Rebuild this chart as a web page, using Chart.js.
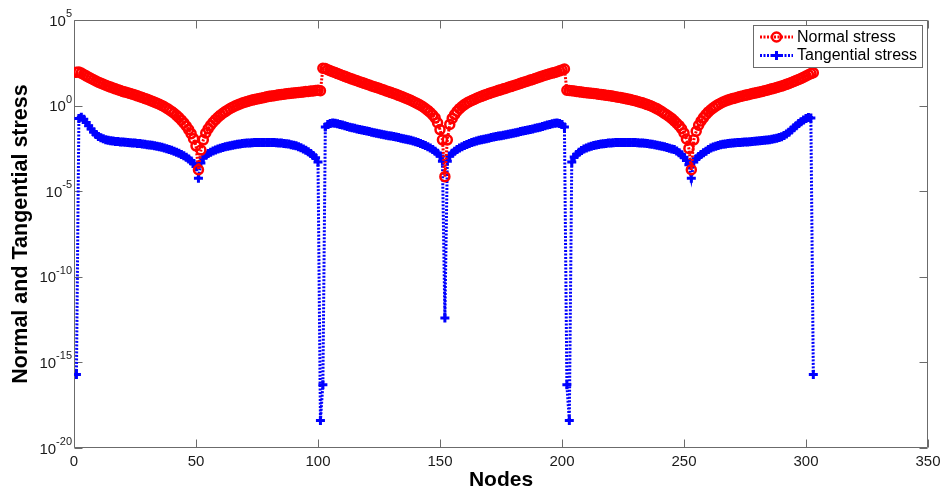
<!DOCTYPE html>
<html>
<head>
<meta charset="utf-8">
<script src="https://cdn.jsdelivr.net/npm/chart.js@4/dist/chart.umd.min.js"></script>
<style>
  html, body { margin: 0; padding: 0; background: #fff; }
  #wrap { width: 947px; height: 496px; position: relative; }
</style>
</head>
<body>
<div id="wrap"><canvas id="c"></canvas></div>
<script>
// Values, as powers of ten (log10 of stress), node 1..303
const normalStressExp = [
  1.95, 1.96, 1.90, 1.82, 1.74, 1.66, 1.58, 1.51, 1.44, 1.37,
  1.31, 1.25, 1.19, 1.13, 1.08, 1.03, 0.98, 0.93, 0.88, 0.83,
  0.79, 0.75, 0.71, 0.67, 0.62, 0.57, 0.52, 0.47, 0.42, 0.37,
  0.31, 0.26, 0.20, 0.14, 0.08, 0.01, -0.07, -0.15, -0.24, -0.34,
  -0.45, -0.57, -0.70, -0.85, -1.01, -1.19, -1.40, -1.64, -1.93, -2.35,
  -3.75,
  -2.6, -2.0, -1.6, -1.35, -1.15, -0.97, -0.82, -0.68, -0.56, -0.45,
  -0.35, -0.26, -0.17, -0.09, -0.02, 0.04, 0.10, 0.15, 0.20, 0.24,
  0.28, 0.32, 0.36, 0.39, 0.42, 0.45, 0.48, 0.51, 0.54, 0.56,
  0.58, 0.61, 0.63, 0.65, 0.67, 0.69, 0.70, 0.72, 0.74, 0.75,
  0.77, 0.78, 0.80, 0.82, 0.83, 0.85, 0.86, 0.88, 0.89, 0.87,
  2.18, 2.16, 2.10, 2.04, 1.98, 1.93, 1.87, 1.82, 1.76, 1.71,
  1.65, 1.60, 1.55, 1.50, 1.45, 1.40, 1.35, 1.30, 1.25, 1.20,
  1.15, 1.10, 1.06, 1.01, 0.96, 0.91, 0.86, 0.81, 0.76, 0.71,
  0.66, 0.60, 0.55, 0.49, 0.43, 0.37, 0.31, 0.24, 0.17, 0.10,
  0.02, -0.07, -0.17, -0.28, -0.40, -0.55, -0.72, -1.0, -1.4, -2.0,
  -4.15,
  -2.0, -1.1, -0.75, -0.52, -0.33, -0.18, -0.05, 0.06, 0.15, 0.23,
  0.30, 0.36, 0.43, 0.49, 0.54, 0.60, 0.65, 0.70, 0.75, 0.80,
  0.84, 0.89, 0.93, 0.98, 1.02, 1.07, 1.11, 1.16, 1.20, 1.25,
  1.30, 1.35, 1.39, 1.44, 1.49, 1.53, 1.58, 1.63, 1.68, 1.73,
  1.77, 1.82, 1.86, 1.90, 1.94, 1.98, 2.03, 2.08, 2.14,
  0.90, 0.88, 0.87, 0.85, 0.83, 0.81, 0.79, 0.77, 0.75, 0.74,
  0.72, 0.71, 0.69, 0.67, 0.65, 0.63, 0.61, 0.59, 0.57, 0.54,
  0.52, 0.49, 0.47, 0.44, 0.41, 0.38, 0.35, 0.31, 0.28, 0.24,
  0.20, 0.16, 0.11, 0.06, 0.01, -0.05, -0.12, -0.19, -0.27, -0.36,
  -0.46, -0.55, -0.65, -0.76, -0.89, -1.03, -1.17, -1.35, -1.6, -1.95,
  -2.5, -3.75,
  -2.0, -1.5, -1.15, -0.90, -0.70, -0.52, -0.37, -0.24, -0.13, -0.03,
  0.06, 0.14, 0.21, 0.27, 0.32, 0.37, 0.41, 0.45, 0.49, 0.53,
  0.56, 0.60, 0.63, 0.67, 0.70, 0.73, 0.76, 0.80, 0.83, 0.87,
  0.90, 0.94, 0.98, 1.02, 1.06, 1.10, 1.14, 1.19, 1.24, 1.29,
  1.35, 1.41, 1.47, 1.53, 1.59, 1.66, 1.73, 1.80, 1.87, 1.92
];

const tangentialStressExp = [
  -15.7, -0.75, -0.68, -0.80, -0.98, -1.17, -1.36, -1.54, -1.69, -1.80,
  -1.88, -1.94, -1.99, -2.02, -2.05, -2.07, -2.09, -2.10, -2.12, -2.13,
  -2.14, -2.16, -2.17, -2.18, -2.19, -2.21, -2.22, -2.24, -2.26, -2.28,
  -2.30, -2.32, -2.35, -2.38, -2.41, -2.44, -2.48, -2.52, -2.56, -2.61,
  -2.66, -2.72, -2.78, -2.85, -2.93, -3.02, -3.12, -3.24, -3.38, -3.56,
  -4.25,
  -3.35, -3.05, -2.90, -2.80, -2.72, -2.65, -2.59, -2.54, -2.49, -2.45,
  -2.41, -2.37, -2.34, -2.31, -2.28, -2.26, -2.24, -2.22, -2.20, -2.19,
  -2.18, -2.17, -2.16, -2.16, -2.15, -2.15, -2.15, -2.15, -2.15, -2.16,
  -2.16, -2.17, -2.18, -2.19, -2.21, -2.23, -2.25, -2.28, -2.31, -2.35,
  -2.40, -2.46, -2.53, -2.61, -2.70, -2.80, -2.92, -3.05, -3.30, -18.4,
  -16.3, -1.25,
  -1.10, -1.04, -1.02, -1.03, -1.06, -1.10, -1.14, -1.18, -1.22, -1.26,
  -1.30, -1.33, -1.36, -1.40, -1.43, -1.46, -1.49, -1.52, -1.55, -1.58,
  -1.61, -1.64, -1.67, -1.70, -1.73, -1.76, -1.78, -1.81, -1.84, -1.87,
  -1.90, -1.93, -1.96, -1.99, -2.03, -2.07, -2.11, -2.16, -2.21, -2.27,
  -2.33, -2.40, -2.48, -2.57, -2.67, -2.79, -2.94, -3.25, -12.4,
  -3.25, -2.94, -2.79, -2.67, -2.57, -2.48, -2.40, -2.33, -2.27, -2.21,
  -2.16, -2.11, -2.07, -2.03, -1.99, -1.96, -1.93, -1.90, -1.87, -1.84,
  -1.81, -1.78, -1.76, -1.73, -1.70, -1.67, -1.64, -1.61, -1.58, -1.55,
  -1.52, -1.49, -1.46, -1.43, -1.40, -1.36, -1.33, -1.30, -1.26, -1.22,
  -1.18, -1.14, -1.10, -1.06, -1.03, -1.02, -1.04, -1.10, -1.25, -16.3,
  -18.4,
  -3.30, -3.00, -2.85, -2.72, -2.62, -2.54, -2.47, -2.42, -2.37, -2.33,
  -2.30, -2.27, -2.25, -2.23, -2.21, -2.19, -2.18, -2.17, -2.16, -2.16,
  -2.15, -2.15, -2.15, -2.15, -2.15, -2.16, -2.16, -2.17, -2.18, -2.19,
  -2.20, -2.22, -2.24, -2.26, -2.28, -2.31, -2.34, -2.37, -2.41, -2.45,
  -2.49, -2.53, -2.57, -2.65, -2.75, -2.87, -3.02, -3.20, -3.45, -4.25,
  -3.30, -3.10, -2.97, -2.86, -2.76, -2.66, -2.56, -2.48, -2.42, -2.37,
  -2.33, -2.29, -2.26, -2.24, -2.22, -2.20, -2.19, -2.17, -2.16, -2.15,
  -2.14, -2.13, -2.12, -2.11, -2.10, -2.08, -2.07, -2.06, -2.04, -2.03,
  -2.01, -1.99, -1.97, -1.94, -1.91, -1.87, -1.82, -1.75, -1.66, -1.55,
  -1.43, -1.30, -1.17, -1.05, -0.94, -0.84, -0.76, -0.70, -0.72, -15.7
];

const seriesLabels = ['Normal stress', 'Tangential stress'];
const xTickValues = [0, 50, 100, 150, 200, 250, 300, 350];
const yTickValues = [1e-20, 1e-15, 1e-10, 1e-5, 1e0, 1e5];
const xTitle = 'Nodes';
const yTitle = 'Normal and Tangential stress';

function toPoints(exps) {
  return exps.map((e, i) => ({ x: i + 1, y: Math.pow(10, e) }));
}

const AXIS_COLOR = '#6b6b6b';
const FONT = '"Liberation Sans", Arial, Helvetica, sans-serif';

const matlabAxes = {
  id: 'matlabAxes',
  beforeDatasetsDraw(chart) {
    const { ctx, chartArea: a, scales } = chart;
    const L = Math.round(a.left) + 0.5, R = Math.round(a.right) - 0.5;
    const T = Math.round(a.top) + 0.5, B = Math.round(a.bottom) - 0.5;
    ctx.save();
    ctx.strokeStyle = AXIS_COLOR;
    ctx.lineWidth = 1;
    ctx.beginPath();
    ctx.rect(L, T, R - L, B - T);
    const tl = 8;
    xTickValues.forEach(v => {
      const px = Math.round(scales.x.getPixelForValue(v)) + 0.5;
      ctx.moveTo(px, B); ctx.lineTo(px, B - tl);
      ctx.moveTo(px, T); ctx.lineTo(px, T + tl);
    });
    yTickValues.forEach(v => {
      const py = Math.round(scales.y.getPixelForValue(v)) + 0.5;
      ctx.moveTo(L, py); ctx.lineTo(L + tl, py);
      ctx.moveTo(R, py); ctx.lineTo(R - tl, py);
    });
    ctx.stroke();

    // y tick labels as 10 with a raised exponent
    ctx.fillStyle = '#1a1a1a';
    ctx.textAlign = 'left';
    ctx.textBaseline = 'alphabetic';
    yTickValues.forEach(v => {
      const py = scales.y.getPixelForValue(v);
      const exp = String(Math.round(Math.log10(v)));
      ctx.font = '11px ' + FONT;
      const we = ctx.measureText(exp).width;
      ctx.font = '15px ' + FONT;
      const wb = ctx.measureText('10').width;
      const right = a.left - 2;
      const xb = right - we - wb;
      ctx.fillText('10', xb, py + 5.5);
      ctx.font = '11px ' + FONT;
      ctx.fillText(exp, xb + wb, py - 3);
    });
    ctx.restore();
  }
};

const matlabLegend = {
  id: 'matlabLegend',
  afterDraw(chart) {
    const ctx = chart.ctx;
    const bx = 753.5, by = 25.5, bw = 169, bh = 42;
    ctx.save();
    ctx.fillStyle = '#ffffff';
    ctx.fillRect(bx, by, bw, bh);
    ctx.strokeStyle = AXIS_COLOR;
    ctx.lineWidth = 1;
    ctx.strokeRect(bx, by, bw, bh);
    chart.data.datasets.forEach((ds, i) => {
      const cy = 37 + i * 18.5;
      ctx.strokeStyle = ds.borderColor;
      ctx.lineWidth = ds.borderWidth;
      ctx.setLineDash(ds.borderDash);
      ctx.beginPath();
      ctx.moveTo(760, cy); ctx.lineTo(793, cy);
      ctx.stroke();
      ctx.setLineDash([]);
      ctx.strokeStyle = ds.pointBorderColor;
      ctx.fillStyle = ds.pointBackgroundColor;
      ctx.lineWidth = ds.pointBorderWidth;
      Chart.helpers.drawPoint(ctx, { pointStyle: ds.pointStyle, radius: ds.pointRadius, borderWidth: ds.pointBorderWidth, rotation: 0 }, 776.5, cy);
      ctx.fillStyle = '#000000';
      ctx.font = '16px ' + FONT;
      ctx.textBaseline = 'middle';
      ctx.textAlign = 'left';
      ctx.fillText(ds.label, 797, cy + 0.5);
    });
    ctx.restore();
  }
};

new Chart(document.getElementById('c'), {
  type: 'line',
  data: {
    datasets: [
      {
        label: seriesLabels[0],
        data: toPoints(normalStressExp),
        borderColor: '#ff0000',
        backgroundColor: 'rgba(0,0,0,0)',
        borderWidth: 3,
        borderDash: [2, 1.5],
        pointStyle: 'circle',
        pointRadius: 4.5,
        pointBorderWidth: 2.5,
        pointBorderColor: '#ff0000',
        pointBackgroundColor: 'rgba(0,0,0,0)',
        fill: false,
        tension: 0,
        order: 1
      },
      {
        label: seriesLabels[1],
        data: toPoints(tangentialStressExp),
        borderColor: '#0000ff',
        backgroundColor: 'rgba(0,0,0,0)',
        borderWidth: 3,
        borderDash: [2, 1.5],
        pointStyle: 'cross',
        pointRadius: 4.5,
        pointBorderWidth: 3,
        pointBorderColor: '#0000ff',
        pointBackgroundColor: 'rgba(0,0,0,0)',
        fill: false,
        tension: 0,
        order: 2
      }
    ]
  },
  options: {
    responsive: true,
    maintainAspectRatio: false,
    animation: false,
    devicePixelRatio: 1,
    layout: { padding: { top: 20, right: 19, left: 0, bottom: 0 } },
    plugins: {
      legend: { display: false },
      tooltip: { enabled: false }
    },
    scales: {
      x: {
        type: 'linear',
        min: 0,
        max: 350,
        afterFit: s => { s.height = 48; },
        afterBuildTicks: s => { s.ticks = xTickValues.map(v => ({ value: v })); },
        grid: { display: false, drawTicks: false },
        border: { display: false },
        ticks: { color: '#1a1a1a', font: { size: 15, family: FONT }, padding: 5, maxRotation: 0 },
        title: { display: true, text: xTitle, color: '#000', font: { size: 21, weight: 'bold', family: FONT }, padding: { top: 0, bottom: 3 } }
      },
      y: {
        type: 'logarithmic',
        min: 1e-20,
        max: 1e5,
        afterFit: s => { s.width = 74; },
        afterBuildTicks: s => { s.ticks = yTickValues.map(v => ({ value: v })); },
        grid: { display: false, drawTicks: false },
        border: { display: false },
        ticks: { display: false },
        title: { display: true, text: yTitle, color: '#000', font: { size: 21.5, weight: 'bold', family: FONT }, padding: { top: 8, bottom: 0 } }
      }
    }
  },
  plugins: [matlabAxes, matlabLegend]
});
</script>
</body>
</html>
